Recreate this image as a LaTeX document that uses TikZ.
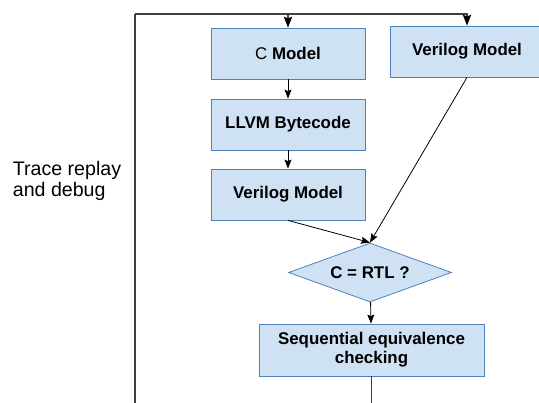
\documentclass[tikz,border=0pt]{standalone}
\usepackage{fontspec}
\setmainfont{Liberation Sans}
\usepackage{tikz}
\usetikzlibrary{positioning,shapes.geometric,arrows.meta}

\definecolor{boxfill}{RGB}{207,226,243}
\definecolor{boxline}{RGB}{79,129,189}

\begin{document}
\begin{tikzpicture}[x=1pt,y=1pt,
  model/.style={draw=boxline,fill=boxfill,line width=.8pt,minimum width=154pt,minimum height=51pt,
    inner sep=0pt,font=\fontsize{16.9}{19}\selectfont\bfseries,align=center},
  check/.style={diamond,draw=boxline,fill=boxfill,line width=.8pt,minimum width=163pt,minimum height=59pt,
    aspect=2.76,inner sep=0pt,font=\fontsize{16.9}{19}\selectfont\bfseries},
  flow/.style={->,>={Stealth[length=9pt,width=7pt,inset=1.5pt]},line width=.8pt},
  loop/.style={line width=1.1pt,black!75,>={Stealth[length=11pt,width=8.5pt,inset=2pt,black]}}]
\useasboundingbox (0,0) rectangle (539,403);
\node[model] (cmodel) at (288,349.5) {{\mdseries C} Model};
\node[model] (llvm) at (288,278.5) {LLVM Bytecode};
\node[model] (vlog) at (288,208.5) {Verilog Model};
\node[model] (vref) at (467,351.5) {Verilog Model};
\node[check] (eq) at (370,130.5) {C = RTL ?};
\node[model,minimum width=225pt,minimum height=52pt] (seq) at (371.5,53) {Sequential equivalence\\checking};
\node[align=left,font=\fontsize{19.6}{21}\selectfont] (trace) at (67,222) {Trace replay\\and debug};
% loop back
\coordinate (tl) at (135,389);
\coordinate (bl) at (135,0);
\draw[loop] (tl) -- (bl);
\draw[loop,->] (tl) -| (cmodel.north);
\draw[loop,->] (tl) -| (vref.north);
\draw[loop] (seq.south) -- (seq.south |- bl);
% main flow
\draw[flow] (cmodel) -- (llvm);
\draw[flow] (llvm) -- (vlog);
\draw[flow] (vlog.south) -- (eq.north);
\draw[flow] (vref.south) -- (eq.north);
\draw[flow] (eq) -- (seq);
\end{tikzpicture}
\end{document}
